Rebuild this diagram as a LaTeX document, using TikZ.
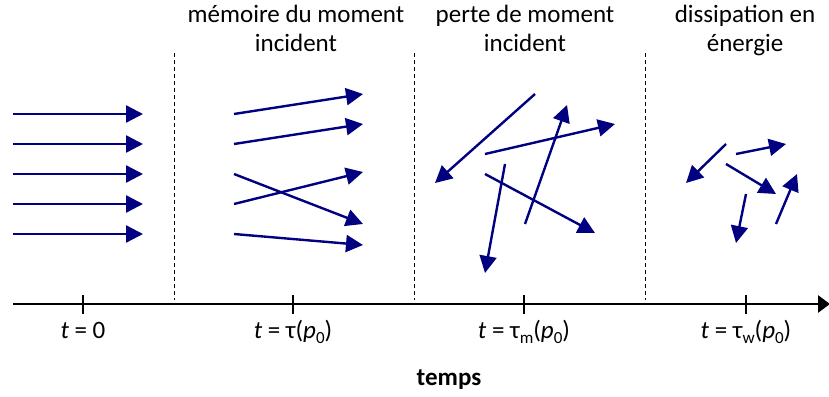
\documentclass[tikz,border=0pt]{standalone}
\usepackage{fontspec}
\setmainfont{Carlito}
\usetikzlibrary{arrows.meta}
\definecolor{arrowblue}{RGB}{0,0,128}
\newcommand{\vsub}[1]{\raisebox{-0.45ex}{\fontsize{17}{17}\selectfont #1}}
\begin{document}
\begin{tikzpicture}[x=1pt,y=-1pt,
  vec/.style={draw=arrowblue,line width=2.4pt,-{Triangle[length=17pt,width=17pt]}},
  axisline/.style={draw=black,line width=2.8pt,-{Triangle[length=12pt,width=17pt]}},
  tickmark/.style={draw=black,line width=2.8pt},
  sep/.style={draw=black,line width=1pt,dash pattern=on 4pt off 3pt},
  title/.style={font=\fontsize{25}{29}\selectfont,align=center,anchor=base},
  tlabel/.style={font=\fontsize{25}{29}\selectfont,anchor=base},
  axtitle/.style={font=\fontsize{25}{29}\selectfont\bfseries,anchor=base}]
\useasboundingbox (0,0) rectangle (829,396);
% separators
\draw[sep] (174,53) -- (174,300);
\draw[sep] (414,53) -- (414,300);
\draw[sep] (645,53) -- (645,300);
% axis
\coordinate (axL) at (13,304);
\coordinate (axR) at (830,304);
\draw[axisline] (axL) -- (axR);
\foreach \x/\n in {83/a,293/b,524/c,746/d}{
  \draw[tickmark] (\x,295) -- (\x,314);
  \coordinate (tk\n) at (\x,338);
}
\node[tlabel] (l0) at (tka) {\textit{t} = 0};
\node[tlabel] (l1) at (tkb) {\textit{t} = τ(\textit{p}\vsub{0})};
\node[tlabel] (l2) at (tkc) {\textit{t} = τ\vsub{m}(\textit{p}\vsub{0})};
\node[tlabel] (l3) at (tkd) {\textit{t} = τ\vsub{w}(\textit{p}\vsub{0})};
\node[axtitle] (temps) at (449,385) {temps};
% titles
\node[title] (h1) at (296,52) {mémoire du moment\\incident};
\node[title] (h2) at (525,52) {perte de moment\\incident};
\node[title] (h3) at (745,52) {dissipation en\\énergie};
% panel 1
\foreach \y in {114,144,174,204,234}{
  \draw[vec] (13,\y) -- (143,\y);
}
% panel 2
\draw[vec] (234,114) -- (363,94);
\draw[vec] (234,144) -- (363,124);
\draw[vec] (234,204) -- (363,172);
\draw[vec] (234,174) -- (363,224);
\draw[vec] (234,234) -- (363,245);
% panel 3
\draw[vec] (535,94) -- (435,183);
\draw[vec] (525,224) -- (567,105);
\draw[vec] (485,154) -- (615,124);
\draw[vec] (485,174) -- (595,233);
\draw[vec] (505,164) -- (485,273);
% panel 4
\draw[vec] (726,144) -- (686,183);
\draw[vec] (736,154) -- (786,144);
\draw[vec] (726,164) -- (776,194);
\draw[vec] (746,194) -- (736,243);
\draw[vec] (776,224) -- (797,174);
\end{tikzpicture}
\end{document}
